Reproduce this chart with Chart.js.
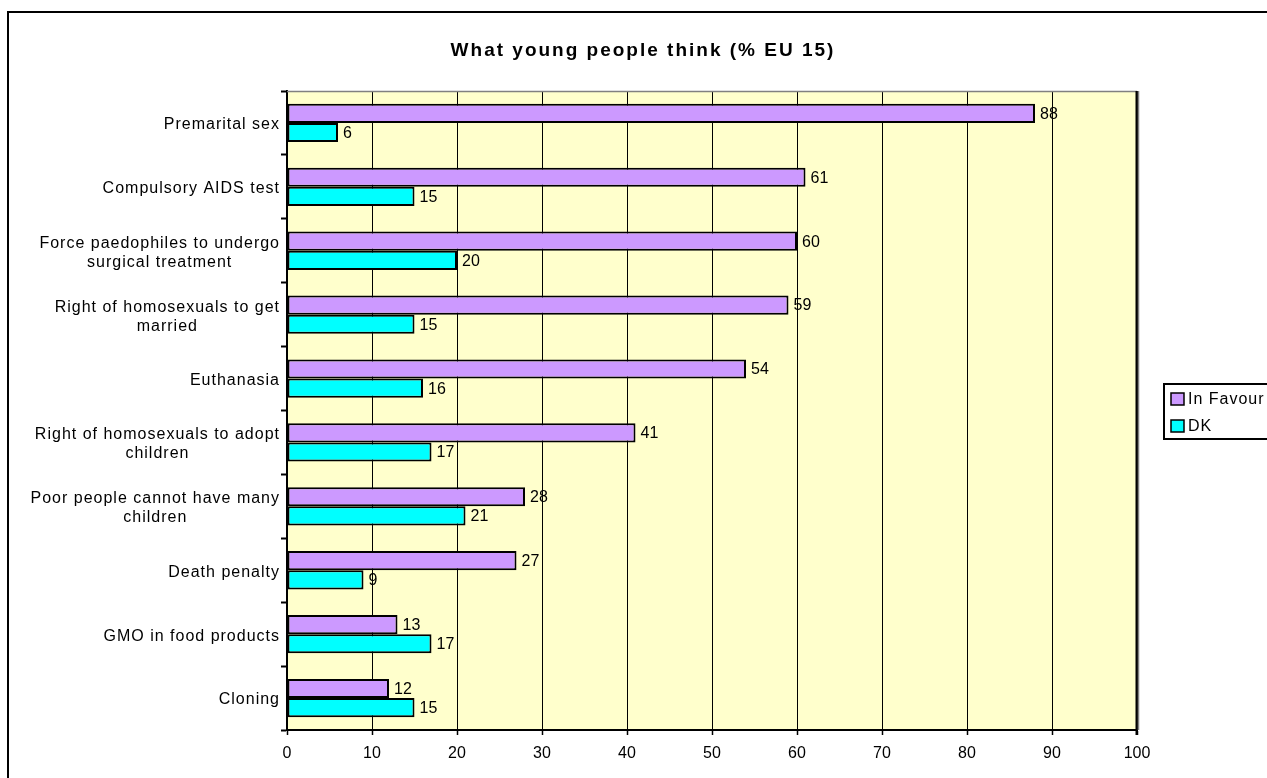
<!DOCTYPE html>
<html>
<head>
<meta charset="utf-8">
<script src="https://cdn.jsdelivr.net/npm/chart.js@4/dist/chart.umd.min.js"></script>
<style>
  html, body { margin: 0; padding: 0; background: #ffffff; }
  #wrap { width: 1267px; height: 778px; position: relative; }
</style>
</head>
<body>
<div id="wrap"><canvas id="c" width="1267" height="778"></canvas></div>
<script>
const chartTitle = "What young people think (% EU 15)";
const categories = [
  ["Premarital sex"],
  ["Compulsory AIDS test"],
  ["Force paedophiles to undergo", "surgical treatment"],
  ["Right of homosexuals to get", "married"],
  ["Euthanasia"],
  ["Right of homosexuals to adopt", "children"],
  ["Poor people cannot have many", "children"],
  ["Death penalty"],
  ["GMO in food products"],
  ["Cloning"]
];
const seriesNames = ["In Favour", "DK"];
const inFavour = [88, 61, 60, 59, 54, 41, 28, 27, 13, 12];
const dk = [6, 15, 20, 15, 16, 17, 21, 9, 17, 15];
const xTicks = [0, 10, 20, 30, 40, 50, 60, 70, 80, 90, 100];
const seriesColors = ["#CC99FF", "#00FFFF"];

const FONT = '"Liberation Sans", Arial, sans-serif';

const framePlugin = {
  id: 'frame',
  beforeDraw(chart) {
    const ctx = chart.ctx, a = chart.chartArea;
    ctx.save();
    ctx.fillStyle = '#ffffff';
    ctx.fillRect(0, 0, chart.width, chart.height);
    ctx.strokeStyle = '#000000';
    ctx.lineWidth = 2;
    ctx.strokeRect(8, 12, 1500, 1200);
    ctx.fillStyle = '#FFFFCC';
    ctx.fillRect(a.left, a.top, a.right - a.left, a.bottom - a.top);
    ctx.restore();
  },
  afterDraw(chart) {
    const ctx = chart.ctx, a = chart.chartArea;
    ctx.save();
    // plot area top border (gray) and right shadow
    ctx.strokeStyle = '#808080';
    ctx.lineWidth = 1.5;
    ctx.beginPath();
    ctx.moveTo(a.left, a.top + 0.5);
    ctx.lineTo(a.right, a.top + 0.5);
    ctx.stroke();
    ctx.strokeStyle = '#000000';
    ctx.lineWidth = 2;
    ctx.beginPath();
    ctx.moveTo(a.right - 0.5, a.top);
    ctx.lineTo(a.right - 0.5, a.bottom + 5);
    ctx.stroke();
    ctx.strokeStyle = '#808080';
    ctx.lineWidth = 1.5;
    ctx.beginPath();
    ctx.moveTo(a.right + 1.5, a.top);
    ctx.lineTo(a.right + 1.5, a.bottom);
    ctx.stroke();

    // title
    ctx.fillStyle = '#000000';
    ctx.font = 'bold 19px ' + FONT;
    ctx.letterSpacing = '2px';
    ctx.textBaseline = 'middle';
    ctx.textAlign = 'left';
    const tw = ctx.measureText(chartTitle).width;
    ctx.fillText(chartTitle, 643 - tw / 2, 51);

    // category labels
    const ys = chart.scales.y;
    ctx.font = '16px ' + FONT;
    ctx.letterSpacing = '1px';
    const rightEdge = 280;
    categories.forEach((lines, i) => {
      const cy = ys.getPixelForValue(i) + 2;
      const widths = lines.map(l => ctx.measureText(l).width);
      const maxW = Math.max(...widths);
      const cx = rightEdge - maxW / 2;
      lines.forEach((l, j) => {
        const y = cy + (j - (lines.length - 1) / 2) * 19;
        ctx.fillText(l, cx - widths[j] / 2, y);
      });
    });

    // legend
    ctx.letterSpacing = '1px';
    ctx.font = '16px ' + FONT;
    ctx.lineWidth = 2;
    ctx.strokeStyle = '#000000';
    ctx.fillStyle = '#ffffff';
    ctx.fillRect(1164, 384, 200, 55);
    ctx.strokeRect(1164, 384, 200, 55);
    chart.data.datasets.forEach((ds, k) => {
      const y = 399 + k * 27;
      ctx.fillStyle = ds.backgroundColor;
      ctx.fillRect(1171, y - 6, 13, 12);
      ctx.lineWidth = 1.5;
      ctx.strokeRect(1171, y - 6, 13, 12);
      ctx.fillStyle = '#000000';
      ctx.fillText(ds.label, 1188, y + 1);
    });
    ctx.restore();
  },
  afterDatasetsDraw(chart) {
    const ctx = chart.ctx;
    ctx.save();
    ctx.fillStyle = '#000000';
    ctx.font = '16px ' + FONT;
    ctx.textBaseline = 'middle';
    ctx.textAlign = 'left';
    chart.data.datasets.forEach((ds, k) => {
      const meta = chart.getDatasetMeta(k);
      meta.data.forEach((bar, i) => {
        ctx.fillText(String(ds.data[i]), bar.x + 5, bar.y + 1);
      });
    });
    ctx.restore();
  }
};

new Chart(document.getElementById('c'), {
  type: 'bar',
  data: {
    labels: categories,
    datasets: [
      { label: seriesNames[0], data: inFavour, backgroundColor: seriesColors[0] },
      { label: seriesNames[1], data: dk, backgroundColor: seriesColors[1] }
    ]
  },
  options: {
    indexAxis: 'y',
    responsive: false,
    animation: false,
    devicePixelRatio: 1,
    layout: { padding: { top: 91, right: 130, bottom: 0, left: 0 } },
    datasets: {
      bar: {
        categoryPercentage: 0.6,
        barPercentage: 1.0,
        borderColor: '#000000',
        borderWidth: 2,
        borderSkipped: false
      }
    },
    plugins: {
      legend: { display: false },
      title: { display: false },
      tooltip: { enabled: false }
    },
    scales: {
      x: {
        min: xTicks[0],
        max: xTicks[xTicks.length - 1],
        afterBuildTicks(scale) { scale.ticks = xTicks.map(v => ({ value: v })); },
        afterFit(scale) { scale.height = 48; },
        ticks: {
          color: '#000000',
          font: { family: FONT, size: 16 },
          padding: 9,
          maxRotation: 0
        },
        grid: {
          color: '#000000',
          lineWidth: 1,
          drawTicks: true,
          tickLength: 5,
          tickColor: '#000000',
          tickWidth: 1.5
        },
        border: { color: '#000000', width: 2 }
      },
      y: {
        afterFit(scale) { scale.width = 287; },
        ticks: { display: false },
        grid: {
          offset: true,
          drawOnChartArea: false,
          drawTicks: true,
          tickLength: 6,
          tickColor: '#000000',
          tickWidth: 2,
          color: '#000000'
        },
        border: { color: '#000000', width: 2 }
      }
    }
  },
  plugins: [framePlugin]
});
</script>
</body>
</html>
